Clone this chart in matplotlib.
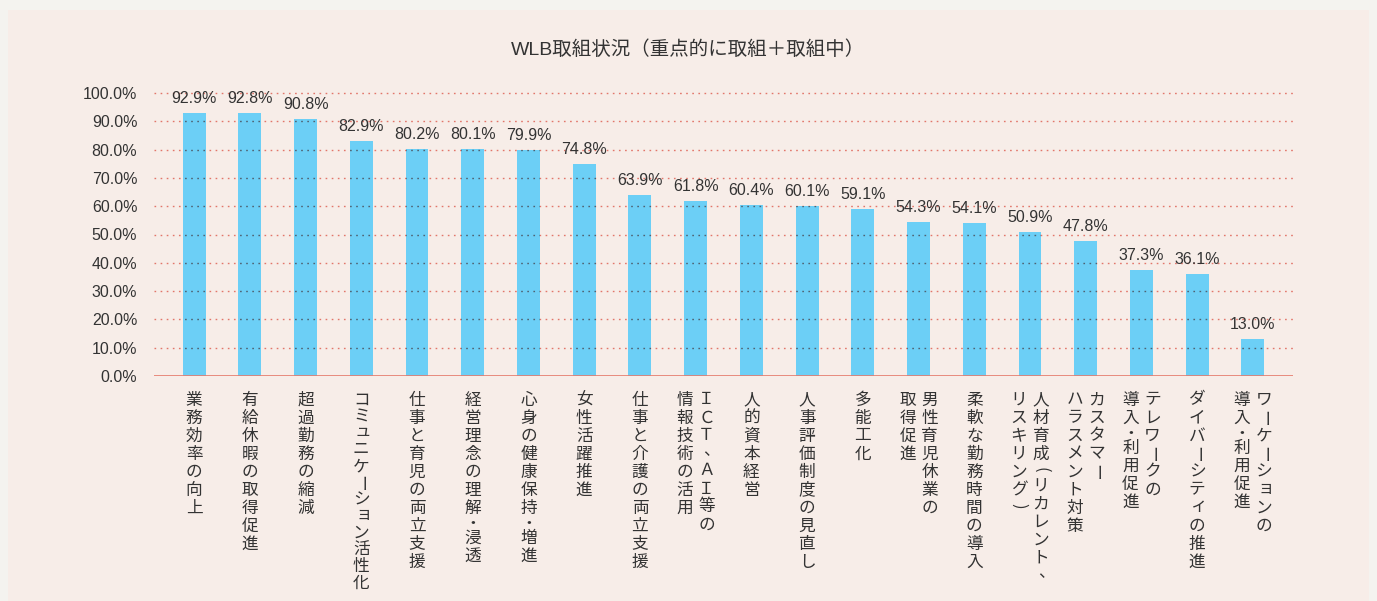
import matplotlib
matplotlib.use("Agg")
import matplotlib.pyplot as plt
from matplotlib.patches import Rectangle

# ---------------- data ----------------
title = "WLB取組状況（重点的に取組＋取組中）"
categories = [
    "業務効率の向上",
    "有給休暇の取得促進",
    "超過勤務の縮減",
    "コミュニケーション活性化",
    "仕事と育児の両立支援",
    "経営理念の理解・浸透",
    "心身の健康保持・増進",
    "女性活躍推進",
    "仕事と介護の両立支援",
    "ＩＣＴ、ＡＩ等の\n情報技術の活用",
    "人的資本経営",
    "人事評価制度の見直し",
    "多能工化",
    "男性育児休業の\n取得促進",
    "柔軟な勤務時間の導入",
    "人材育成(リカレント、\nリスキリング)",
    "カスタマー\nハラスメント対策",
    "テレワークの\n導入・利用促進",
    "ダイバーシティの推進",
    "ワーケーションの\n導入・利用促進",
]
values = [92.9, 92.8, 90.8, 82.9, 80.2, 80.1, 79.9, 74.8, 63.9, 61.8,
          60.4, 60.1, 59.1, 54.3, 54.1, 50.9, 47.8, 37.3, 36.1, 13.0]
yticks = [0, 10, 20, 30, 40, 50, 60, 70, 80, 90, 100]

# ---------------- style ----------------
BAR_COLOR = "#6ccff6"
GRID_RED = "#e2766a"
GRID_DARK = "#4f6272"
TEXT = "#333333"
FIG_BG = "#f4f3ef"
PANEL_BG = "#f7ede8"
LATIN = ["Liberation Sans", "Noto Sans CJK JP"]
CJK = ["Noto Sans CJK JP", "DejaVu Sans"]

W, H = 1377, 601
fig = plt.figure(figsize=(W / 100, H / 100), dpi=100, facecolor=FIG_BG)
fig.patches.append(Rectangle((8 / W, 0), (1369 - 8) / W, 1 - 10 / H,
                             transform=fig.transFigure, facecolor=PANEL_BG,
                             edgecolor="none", zorder=-10))

left, right, top, bottom = 154, 1293, 93, 376
ax = fig.add_axes([left / W, 1 - bottom / H, (right - left) / W, (bottom - top) / H])
ax.set_facecolor("none")
ax.set_zorder(1)

x = list(range(len(values)))
bars = ax.bar(x, values, width=0.41, color=BAR_COLOR, zorder=2)

ax.set_xlim(-0.72, len(values) - 1 + 0.72)
ax.set_ylim(0, 100)

# gridlines (red dotted), darker where they cross the bars
grid_levels = [v for v in yticks if v > 0]
ls = (0, (1.2, 3.2))
ax.hlines(grid_levels, *ax.get_xlim(), colors=GRID_RED, linestyles=[ls],
          linewidth=1.0, zorder=1, clip_on=False)
for b in bars:
    lc = ax.hlines(grid_levels, *ax.get_xlim(), colors=GRID_DARK, linestyles=[ls],
                   linewidth=1.0, zorder=3)
    lc.set_clip_path(b)
ax.axhline(0, color="#e57a6c", linewidth=1.2, zorder=4)

for s in ax.spines.values():
    s.set_visible(False)
ax.set_yticks(yticks)
ax.set_yticklabels([f"{v:.1f}%" for v in yticks], fontsize=11.5,
                   family=LATIN, color=TEXT)
ax.tick_params(axis="y", length=0, pad=12)
ax.set_xticks([])

# value labels
for xi, v in zip(x, values):
    ax.annotate(f"{v:.1f}%", xy=(xi, v), xytext=(0, 7), textcoords="offset pixels",
                ha="center", va="bottom", fontsize=11.5, family=LATIN, color=TEXT)

# title
fig.text(688 / W, 1 - 50 / H, title, ha="center", va="center", fontsize=14,
         family=LATIN, color=TEXT)

# vertical (tategaki) category labels
SMALL = set("ァィゥェォャュョッヮ")
ROTATE = set("ー()")
ADV = {"・": 12, "、": 17, "(": 14, ")": 14}
STEP = 18.0
FIRST = 24.0   # px below the axis line to first character centre
MAXLEN = 183.0
COLGAP = 22.0

def draw_vertical(xi, label):
    lines = label.split("\n")
    n = len(lines)
    for k, line in enumerate(lines):
        dx = ((n - 1) / 2 - k) * COLGAP
        adv = [ADV.get(ch, STEP) for ch in line]
        centers, pos = [], 0.0
        for i, a in enumerate(adv):
            if i > 0:
                pos += (adv[i - 1] + a) / 2
            centers.append(pos)
        scale = min(1.0, MAXLEN / centers[-1]) if centers[-1] > 0 else 1.0
        for ch, c in zip(line, centers):
            rot, ox, oy = 0, 0, 0
            if ch in ROTATE:
                rot = -90
            if ch in SMALL:
                ox, oy = 2, 2
            if ch == "、":
                ox, oy = 5, 3
            ax.annotate(ch, xy=(xi, 0), xytext=(dx + ox, -(FIRST + c * scale) + oy),
                        textcoords="offset pixels", ha="center", va="center",
                        rotation=rot, fontsize=12, family=CJK, color=TEXT,
                        annotation_clip=False)

for xi, lab in zip(x, categories):
    draw_vertical(xi, lab)

fig.savefig("out.png", dpi=100, facecolor=FIG_BG)
